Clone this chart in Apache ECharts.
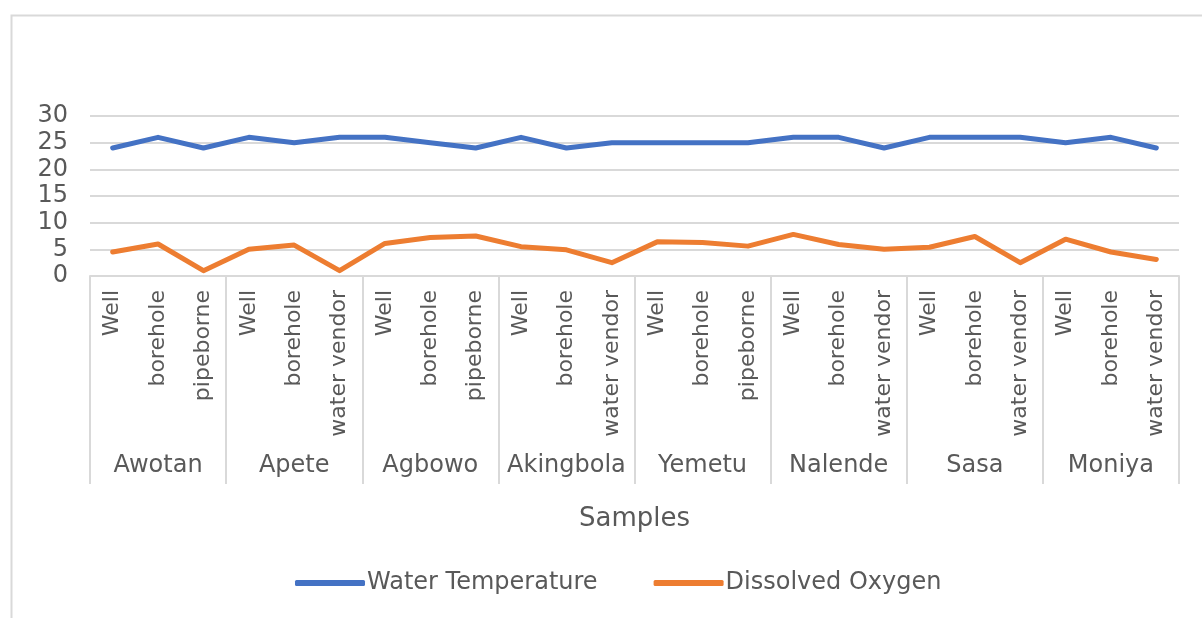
<!DOCTYPE html>
<html>
<head>
<meta charset="utf-8">
<script src="https://cdn.jsdelivr.net/npm/echarts@6/dist/echarts.min.js"></script>
<style>
html,body{margin:0;padding:0;background:#fff;}
#chart{width:1202px;height:618px;}
</style>
</head>
<body>
<div id="chart"></div>
<script>
const groups = ['Awotan','Apete','Agbowo','Akingbola','Yemetu','Nalende','Sasa','Moniya'];
const sources = [
  'Well','borehole','pipeborne',
  'Well','borehole','water vendor',
  'Well','borehole','pipeborne',
  'Well','borehole','water vendor',
  'Well','borehole','pipeborne',
  'Well','borehole','water vendor',
  'Well','borehole','water vendor',
  'Well','borehole','water vendor'
];
const waterTemperature = [24,26,24, 26,25,26, 26,25,24, 26,24,25, 25,25,25, 26,26,24, 26,26,26, 25,26,24];
const dissolvedOxygen  = [4.5,6,1, 5,5.8,1, 6.1,7.2,7.5, 5.5,4.9,2.5, 6.4,6.3,5.6, 7.8,5.9,5, 5.4,7.4,2.5, 6.9,4.5,3.1];
const yTicks = [0,5,10,15,20,25,30];

const FONT = 'DejaVu Sans';
const TXT = '#595959';
const GRID = '#d9d9d9';

const chart = echarts.init(document.getElementById('chart'), null, {renderer:'canvas'});
chart.setOption({
  animation:false,
  backgroundColor:'#fff',
  textStyle:{fontFamily:FONT,color:TXT},
  graphic:[{
    type:'rect', left:9, top:13, silent:true,
    shape:{width:1210, height:620},
    style:{fill:'none', stroke:GRID, lineWidth:2}
  }],
  grid:{left:90,right:23,top:116,bottom:342,containLabel:false},
  legend:{
    left:290, top:566,
    itemWidth:70, itemHeight:6, itemGap:56,
    icon:'roundRect',
    textStyle:{fontFamily:FONT,fontSize:24,color:TXT,padding:[0,0,0,-3]},
    data:['Water Temperature','Dissolved Oxygen']
  },
  xAxis:[{
    type:'category',
    data:sources,
    position:'bottom',
    boundaryGap:true,
    axisLine:{show:true,lineStyle:{color:GRID,width:2}},
    axisTick:{show:false},
    axisLabel:{interval:0,rotate:90,margin:14,fontFamily:FONT,fontSize:22,color:TXT},
    name:'Samples',
    nameLocation:'middle',
    nameGap:230,
    nameTextStyle:{fontFamily:FONT,fontSize:26,color:TXT}
  },{
    type:'category',
    data:groups,
    position:'bottom',
    boundaryGap:true,
    axisLine:{show:false},
    axisTick:{show:true,length:208,lineStyle:{color:GRID,width:2}},
    axisLabel:{interval:0,margin:178,fontFamily:FONT,fontSize:24,color:TXT},
    splitLine:{show:false}
  }],
  yAxis:{
    type:'value',
    min:yTicks[0], max:yTicks[yTicks.length-1], interval:5,
    axisLine:{show:false},
    axisTick:{show:false},
    axisLabel:{margin:22,fontFamily:FONT,fontSize:24,color:TXT},
    splitLine:{show:true,lineStyle:{color:GRID,width:2}}
  },
  series:[{
    name:'Water Temperature',
    type:'line',
    xAxisIndex:0,
    data:waterTemperature,
    showSymbol:false,
    symbol:'none',
    itemStyle:{color:'#4472C4'},
    lineStyle:{color:'#4472C4',width:5,cap:'round',join:'round'}
  },{
    name:'Dissolved Oxygen',
    type:'line',
    xAxisIndex:0,
    data:dissolvedOxygen,
    showSymbol:false,
    symbol:'none',
    itemStyle:{color:'#ED7D31'},
    lineStyle:{color:'#ED7D31',width:5,cap:'round',join:'round'}
  }]
});
</script>
</body>
</html>
